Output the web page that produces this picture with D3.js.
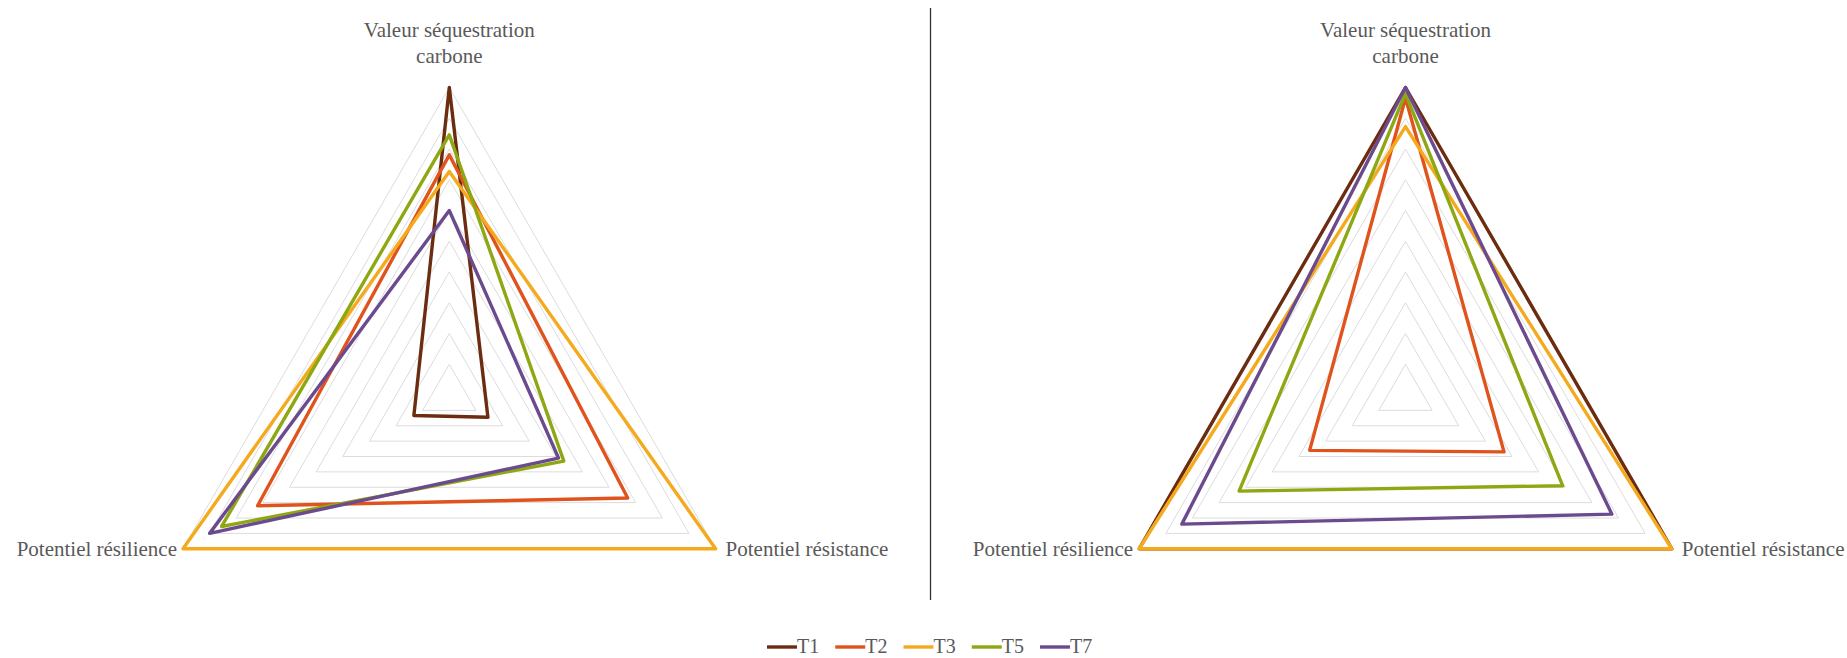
<!DOCTYPE html>
<html>
<head>
<meta charset="utf-8">
<script src="https://cdn.jsdelivr.net/npm/d3@7"></script>
<style>
  html, body { margin: 0; padding: 0; background: #fff; }
  svg { display: block; }
</style>
</head>
<body>
<svg id="chart" width="1847" height="658"></svg>
<script>
// Axes of each radar, clockwise from the top
const axisLabels = [["Valeur séquestration", "carbone"], ["Potentiel résistance"], ["Potentiel résilience"]];
const seriesNames = ["T1", "T2", "T3", "T5", "T7"];
const seriesColors = ["#6b2c10", "#e0531c", "#f5aa1e", "#8ea814", "#6b4a8e"];
const gridLevels = [0.1, 0.2, 0.3, 0.4, 0.5, 0.6, 0.7, 0.8, 0.9, 1.0];

// Scores per series: [séquestration, résistance, résilience]
const leftT1 = [1.0, 0.145, 0.133];
const leftT2 = [0.781, 0.67, 0.72];
const leftT3 = [0.727, 1.0, 1.0];
const leftT5 = [0.846, 0.43, 0.855];
const leftT7 = [0.600, 0.41, 0.90];

const rightT1 = [1.0, 1.0, 1.0];
const rightT2 = [0.966, 0.37, 0.36];
const rightT3 = [0.873, 1.0, 1.0];
const rightT5 = [0.98, 0.59, 0.625];
const rightT7 = [1.0, 0.775, 0.84];

const svg = d3.select("#chart");
const R = 307.5;
const cy = 395;
const r = d3.scaleLinear().domain([0, 1]).range([0, R]);
const angle = d3.scaleLinear().domain([0, axisLabels.length]).range([0, 2 * Math.PI]);
const textColor = "#595959";
const fontFamily = "'Liberation Serif', 'DejaVu Serif', serif";
const labelSize = 21;

function pt(i, v) {
  const a = angle(i);
  return [r(v) * Math.sin(a), -r(v) * Math.cos(a)];
}

const radarLine = d3.line().curve(d3.curveLinearClosed);

function drawRadar(cx, seriesValues) {
  const g = svg.append("g").attr("transform", `translate(${cx},${cy})`);

  // concentric grid triangles
  g.selectAll("path.grid")
    .data(gridLevels)
    .join("path")
    .attr("class", "grid")
    .attr("d", lv => radarLine(axisLabels.map((_, i) => pt(i, lv))))
    .attr("fill", "none")
    .attr("stroke", "#dcdcdc")
    .attr("stroke-width", 1);

  // series outlines
  g.selectAll("path.series")
    .data(seriesValues)
    .join("path")
    .attr("class", "series")
    .attr("d", vals => radarLine(vals.map((v, i) => pt(i, v))))
    .attr("fill", "none")
    .attr("stroke", (_, k) => seriesColors[k])
    .attr("stroke-width", 3.4)
    .attr("stroke-linejoin", "round");

  // axis labels
  const top = pt(0, 1);
  const topText = g.append("text")
    .attr("x", top[0])
    .attr("text-anchor", "middle")
    .attr("font-family", fontFamily)
    .attr("font-size", labelSize)
    .attr("fill", textColor);
  axisLabels[0].forEach((line, j) => {
    topText.append("tspan").attr("x", top[0]).attr("y", 37 - cy + j * 26).text(line);
  });

  const br = pt(1, 1);
  g.append("text")
    .attr("x", br[0] + 10)
    .attr("y", br[1] + 7)
    .attr("text-anchor", "start")
    .attr("font-family", fontFamily)
    .attr("font-size", labelSize)
    .attr("fill", textColor)
    .text(axisLabels[1][0]);

  const bl = pt(2, 1);
  g.append("text")
    .attr("x", bl[0] - 6)
    .attr("y", bl[1] + 7)
    .attr("text-anchor", "end")
    .attr("font-family", fontFamily)
    .attr("font-size", labelSize)
    .attr("fill", textColor)
    .text(axisLabels[2][0]);
}

drawRadar(449.3, [leftT1, leftT2, leftT3, leftT5, leftT7]);
drawRadar(1405.5, [rightT1, rightT2, rightT3, rightT5, rightT7]);

// divider between the two radars
svg.append("line")
  .attr("x1", 930.5).attr("x2", 930.5)
  .attr("y1", 8).attr("y2", 600)
  .attr("stroke", "#333")
  .attr("stroke-width", 1.3);

// legend
const legendX = d3.scalePoint().domain(seriesNames).range([767, 1040]);
const legend = svg.append("g").attr("transform", "translate(0,647)");
const items = legend.selectAll("g").data(seriesNames).join("g")
  .attr("transform", d => `translate(${legendX(d)},0)`);
items.append("line")
  .attr("x1", 0).attr("x2", 30)
  .attr("stroke", (_, k) => seriesColors[k])
  .attr("stroke-width", 3.4);
items.append("text")
  .attr("x", 30)
  .attr("y", 6)
  .attr("font-family", fontFamily)
  .attr("font-size", 20)
  .attr("fill", textColor)
  .text(d => d);
</script>
</body>
</html>
